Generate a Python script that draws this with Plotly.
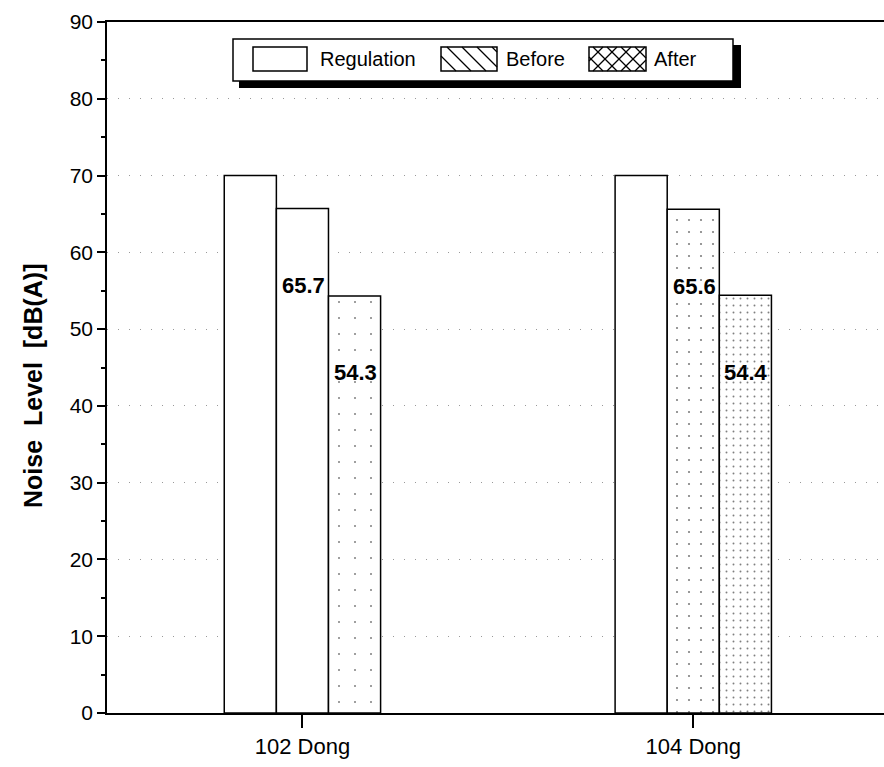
import plotly.graph_objects as go

# ---------------- data ----------------
categories = ["102 Dong", "104 Dong"]
series_names = ["Regulation", "Before", "After"]
regulation = [70, 70]
before = [65.7, 65.6]
after = [54.3, 54.4]
y_tick_values = [0, 10, 20, 30, 40, 50, 60, 70, 80, 90]
label_before = ["65.7", "65.6"]
label_after = ["54.3", "54.4"]
y_title = "Noise\u00a0\u00a0Level\u00a0\u00a0[dB(A)]"

# ---------------- layout geometry (pixels) ----------------
W, H = 884, 767
ML, MR, MT, MB = 107, 0, 22, 54
PW, PH = W - ML - MR, H - MT - MB
FONT = "Arial, 'Liberation Sans', sans-serif"


def px(x):
    return (x - ML) / PW


def py(y):
    return (H - MB - y) / PH


fig = go.Figure()

common = dict(marker_line_color="black", marker_line_width=1.5, showlegend=False)
fig.add_trace(go.Bar(x=categories, y=regulation, name=series_names[0],
                     marker=dict(color="white"), **common))
fig.add_trace(go.Bar(x=categories, y=before, name=series_names[1],
                     marker=dict(color="white",
                                 pattern=dict(shape=["", "."], size=[12, 12],
                                              solidity=[0.02, 0.025],
                                              fgcolor="black", bgcolor="white",
                                              fillmode="overlay")), **common))
fig.add_trace(go.Bar(x=categories, y=after, name=series_names[2],
                     marker=dict(color="white",
                                 pattern=dict(shape=[".", "."], size=[16, 7],
                                              solidity=[0.012, 0.06],
                                              fgcolor="black", bgcolor="white",
                                              fillmode="overlay")), **common))

# value labels (placed inside the bars, below their tops, as in the original)
LABEL_DROP = 10
annotations = []
for i, cat in enumerate(categories):
    annotations.append(dict(x=cat, y=before[i] - LABEL_DROP, xref="x", yref="y",
                            text=label_before[i], showarrow=False, xanchor="right",
                            yanchor="middle", xshift=25,
                            font=dict(family=FONT, size=22, color="black", weight="bold")))
    annotations.append(dict(x=cat, y=after[i] - LABEL_DROP, xref="x", yref="y",
                            text=label_after[i], showarrow=False, xanchor="right",
                            yanchor="middle", xshift=77,
                            font=dict(family=FONT, size=22, color="black", weight="bold")))

# y-axis title
annotations.append(dict(x=px(33), y=py(386), xref="paper", yref="paper",
                        text=y_title, textangle=-90, showarrow=False,
                        xanchor="center", yanchor="middle",
                        font=dict(family=FONT, size=25, color="black", weight="bold")))

# ---------------- hand-drawn legend box ----------------
shapes = []
shapes.append(dict(type="rect", xref="paper", yref="paper",
                   x0=px(239), x1=px(741), y0=py(88), y1=py(45),
                   fillcolor="black", line=dict(width=0), layer="above"))
shapes.append(dict(type="rect", xref="paper", yref="paper",
                   x0=px(233), x1=px(733), y0=py(81), y1=py(39),
                   fillcolor="white", line=dict(color="black", width=1.5), layer="above"))

swatches = [(253, 307), (441, 497), (589, 646)]
sy0, sy1 = 47, 71
for (x0, x1) in swatches:
    shapes.append(dict(type="rect", xref="paper", yref="paper",
                       x0=px(x0), x1=px(x1), y0=py(sy1), y1=py(sy0),
                       fillcolor="white", line=dict(color="black", width=1.5), layer="above"))


def hatch(x0, x1, y0, y1, spacing, direction):
    h = y1 - y0
    segs = []
    xs = x0 - h
    while xs < x1:
        t0 = max(0, x0 - xs)
        t1 = min(h, x1 - xs)
        if t1 > t0:
            if direction == "back":
                segs.append(((xs + t0, y0 + t0), (xs + t1, y0 + t1)))
            else:
                segs.append(((xs + t0, y1 - t0), (xs + t1, y1 - t1)))
        xs += spacing
    return segs


segs = hatch(441, 497, sy0, sy1, 15, "back")
segs += hatch(589, 646, sy0, sy1, 14, "back") + hatch(589, 646, sy0, sy1, 14, "fwd")
for (a, b) in segs:
    shapes.append(dict(type="line", xref="paper", yref="paper",
                       x0=px(a[0]), y0=py(a[1]), x1=px(b[0]), y1=py(b[1]),
                       line=dict(color="black", width=1.2), layer="above"))

legend_text_x = [318, 504, 652]
for name, lx in zip(series_names, legend_text_x):
    annotations.append(dict(x=px(lx), y=py(59), xref="paper", yref="paper",
                            text=name, showarrow=False, xanchor="left", yanchor="middle",
                            font=dict(family=FONT, size=20, color="black")))

fig.update_layout(
    width=W, height=H,
    margin=dict(l=ML, r=MR, t=MT, b=MB, pad=0),
    paper_bgcolor="white", plot_bgcolor="white",
    barmode="group", bargap=0.6, bargroupgap=0,
    showlegend=False,
    font=dict(family=FONT, color="black"),
    annotations=annotations,
    shapes=shapes,
)

fig.update_xaxes(type="category", range=[-0.5, 1.488],
                 showline=True, linecolor="black", linewidth=2, mirror=True,
                 ticks="outside", ticklen=13, tickwidth=1.5, tickcolor="black",
                 showgrid=False, tickfont=dict(family=FONT, size=22, color="black"))
fig.update_yaxes(range=[0, 90], tickvals=y_tick_values,
                 showline=True, linecolor="black", linewidth=1.5, mirror=False,
                 ticks="outside", ticklen=8, tickwidth=1.5, tickcolor="black",
                 minor=dict(dtick=5, ticks="outside", ticklen=4, tickcolor="black",
                            showgrid=False),
                 showgrid=True, gridcolor="#999999", gridwidth=1, griddash="1px,10px",
                 zeroline=False,
                 tickfont=dict(family=FONT, size=21, color="black"))

fig.write_html("out.html")
